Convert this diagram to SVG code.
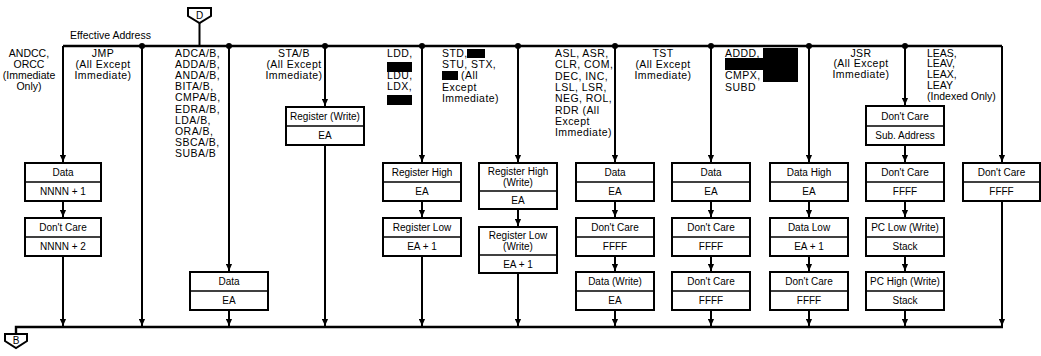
<svg xmlns="http://www.w3.org/2000/svg" width="1041" height="356" viewBox="0 0 1041 356">
<defs>
<style>
.t{font-family:"Liberation Sans",Arial,Helvetica,sans-serif;font-size:10px;fill:#000}
.l{font-size:10.5px}
.m{letter-spacing:0.45px}
.c{text-anchor:middle}
.box{fill:#fff;stroke:#000;stroke-width:2}
.dv{stroke:#000;stroke-width:1.5}
.ln{stroke:#000;stroke-width:2;fill:none}
.bus{stroke:#000;stroke-width:2.4;fill:none}
.a{marker-end:url(#ah)}
.red{fill:#000}
</style>
<marker id="ah" viewBox="0 0 8 8" refX="8" refY="4" markerWidth="8" markerHeight="7" markerUnits="userSpaceOnUse" orient="auto">
<path d="M0,0.5 L8,4 L0,7.5 Z" fill="#000"/>
</marker>
</defs>
<rect width="1041" height="356" fill="#fff"/>

<g id="connectors">
<path class="bus" d="M63,46 H1002"/>
<path class="bus" d="M16,334 V327 H1003"/>
<path class="ln" d="M199.5,23 V46"/>
<g fill="#000">
<circle cx="142" cy="46" r="3"/><circle cx="229" cy="46" r="3"/><circle cx="325" cy="46" r="3"/>
<circle cx="422" cy="46" r="3"/><circle cx="518" cy="46" r="3"/><circle cx="615" cy="46" r="3"/>
<circle cx="711" cy="46" r="3"/><circle cx="809" cy="46" r="3"/><circle cx="905" cy="46" r="3"/>
</g>
<path class="ln a" d="M63,46 V162"/>
<path class="ln a" d="M63,201 V217"/>
<path class="ln a" d="M63,256 V326"/>
<path class="ln a" d="M142,46 V326"/>
<path class="ln a" d="M229,46 V271"/>
<path class="ln a" d="M229,310 V326"/>
<path class="ln a" d="M325,46 V106"/>
<path class="ln a" d="M325,145 V326"/>
<path class="ln a" d="M422,46 V162"/>
<path class="ln a" d="M422,201 V217"/>
<path class="ln a" d="M422,256 V326"/>
<path class="ln a" d="M518,46 V162"/>
<path class="ln a" d="M518,209 V226"/>
<path class="ln a" d="M518,273 V326"/>
<path class="ln a" d="M615,46 V162"/>
<path class="ln a" d="M615,201 V217"/>
<path class="ln a" d="M615,256 V271"/>
<path class="ln a" d="M615,310 V326"/>
<path class="ln a" d="M711,46 V162"/>
<path class="ln a" d="M711,201 V217"/>
<path class="ln a" d="M711,256 V271"/>
<path class="ln a" d="M711,310 V326"/>
<path class="ln a" d="M809,46 V162"/>
<path class="ln a" d="M809,201 V217"/>
<path class="ln a" d="M809,256 V271"/>
<path class="ln a" d="M809,310 V326"/>
<path class="ln a" d="M905,46 V105"/>
<path class="ln a" d="M905,145 V162"/>
<path class="ln a" d="M905,201 V217"/>
<path class="ln a" d="M905,256 V271"/>
<path class="ln a" d="M905,310 V326"/>
<path class="ln a" d="M1002,46 V162"/>
<path class="ln a" d="M1002,201 V326"/>
</g>

<g id="offpage-D">
<polygon class="box" points="188,8 211,8 211,16 199.5,23 188,16"/>
<text class="t c" x="199.5" y="19">D</text>
</g>
<g id="offpage-B">
<polygon class="box" points="5,334 27,334 27,341 16,348 5,341"/>
<text class="t c" x="16" y="344">B</text>
</g>

<g id="labels">
<text class="t l" x="70" y="39">Effective Address</text>
<text class="t l c" x="29" y="56.6"><tspan x="29">ANDCC,</tspan><tspan x="29" dy="11">ORCC</tspan><tspan x="29" dy="11">(Immediate</tspan><tspan x="29" dy="11">Only)</tspan></text>
<text class="t l m c" x="103" y="56.6"><tspan x="103">JMP</tspan><tspan x="103" dy="11">(All Except</tspan><tspan x="103" dy="11">Immediate)</tspan></text>
<text class="t l m" x="175" y="56.6"><tspan x="175">ADCA/B,</tspan><tspan x="175" dy="11.2">ADDA/B,</tspan><tspan x="175" dy="11.2">ANDA/B,</tspan><tspan x="175" dy="11.2">BITA/B,</tspan><tspan x="175" dy="11.2">CMPA/B,</tspan><tspan x="175" dy="11.2">EDRA/B,</tspan><tspan x="175" dy="11.2">LDA/B,</tspan><tspan x="175" dy="11.2">ORA/B,</tspan><tspan x="175" dy="11.2">SBCA/B,</tspan><tspan x="175" dy="11.2">SUBA/B</tspan></text>
<text class="t l m c" x="294" y="56.6"><tspan x="294">STA/B</tspan><tspan x="294" dy="11">(All Except</tspan><tspan x="294" dy="11">Immediate)</tspan></text>
<text class="t l m" x="387" y="57"><tspan x="387">LDD,</tspan><tspan x="387" dy="22">LDU,</tspan><tspan x="387" dy="11.3">LDX,</tspan></text>
<rect class="red" x="387" y="62" width="25" height="10"/>
<rect class="red" x="387" y="95" width="25" height="10"/>
<text class="t l m" x="442" y="57"><tspan x="442">STD,</tspan><tspan x="442" dy="11.2">STU, STX,</tspan><tspan x="461" dy="11.2">(All</tspan><tspan x="442" dy="11.2">Except</tspan><tspan x="442" dy="11.2">Immediate)</tspan></text>
<rect class="red" x="467" y="49" width="18" height="9"/>
<rect class="red" x="442" y="71" width="16" height="9"/>
<text class="t l m" x="555" y="57"><tspan x="555">ASL, ASR,</tspan><tspan x="555" dy="11.3">CLR, COM,</tspan><tspan x="555" dy="11.3">DEC, INC,</tspan><tspan x="555" dy="11.3">LSL, LSR,</tspan><tspan x="555" dy="11.3">NEG, ROL,</tspan><tspan x="555" dy="11.3">RDR (All</tspan><tspan x="555" dy="11.3">Except</tspan><tspan x="555" dy="11.3">Immediate)</tspan></text>
<text class="t l m c" x="663" y="57"><tspan x="663">TST</tspan><tspan x="663" dy="11">(All Except</tspan><tspan x="663" dy="11">Immediate)</tspan></text>
<text class="t l m" x="725" y="57"><tspan x="725">ADDD,</tspan><tspan x="725" dy="22">CMPX,</tspan><tspan x="725" dy="11.5">SUBD</tspan></text>
<path class="red" d="M763,48 H798 V82 H763 V70 H725 V58 H763 Z"/>
<text class="t l m c" x="861" y="56.6"><tspan x="861">JSR</tspan><tspan x="861" dy="10.8">(All Except</tspan><tspan x="861" dy="10.8">Immediate)</tspan></text>
<text class="t l" x="927" y="56.6"><tspan x="927">LEAS,</tspan><tspan x="927" dy="10.8">LEAV,</tspan><tspan x="927" dy="10.8">LEAX,</tspan><tspan x="927" dy="10.8">LEAY</tspan><tspan x="927" dy="10.8">(Indexed Only)</tspan></text>
</g>

<g id="n63a"><rect class="box" x="25" y="163" width="76" height="38"/><line class="dv" x1="25" y1="182" x2="101" y2="182"/><text class="t c" x="63" y="176">Data</text><text class="t c" x="63" y="195">NNNN + 1</text></g>
<g id="n63b"><rect class="box" x="25" y="218" width="76" height="38"/><line class="dv" x1="25" y1="237" x2="101" y2="237"/><text class="t c" x="63" y="231">Don't Care</text><text class="t c" x="63" y="250">NNNN + 2</text></g>
<g id="n229a"><rect class="box" x="190" y="272" width="78" height="38"/><line class="dv" x1="190" y1="291" x2="268" y2="291"/><text class="t c" x="229" y="285">Data</text><text class="t c" x="229" y="304">EA</text></g>
<g id="n325a"><rect class="box" x="286" y="107" width="78" height="38"/><line class="dv" x1="286" y1="126" x2="364" y2="126"/><text class="t c" x="325" y="120">Register (Write)</text><text class="t c" x="325" y="139">EA</text></g>
<g id="n422a"><rect class="box" x="383" y="163" width="78" height="38"/><line class="dv" x1="383" y1="182" x2="461" y2="182"/><text class="t c" x="422" y="176">Register High</text><text class="t c" x="422" y="195">EA</text></g>
<g id="n422b"><rect class="box" x="383" y="218" width="78" height="38"/><line class="dv" x1="383" y1="237" x2="461" y2="237"/><text class="t c" x="422" y="231">Register Low</text><text class="t c" x="422" y="250">EA + 1</text></g>
<g id="n518a"><rect class="box" x="479" y="163" width="78" height="46"/><line class="dv" x1="479" y1="191" x2="557" y2="191"/><text class="t c" x="518" y="175">Register High</text><text class="t c" x="518" y="186">(Write)</text><text class="t c" x="518" y="203.5">EA</text></g>
<g id="n518b"><rect class="box" x="479" y="227" width="78" height="46"/><line class="dv" x1="479" y1="255" x2="557" y2="255"/><text class="t c" x="518" y="239">Register Low</text><text class="t c" x="518" y="250">(Write)</text><text class="t c" x="518" y="267.5">EA + 1</text></g>
<g id="n615a"><rect class="box" x="576" y="163" width="78" height="38"/><line class="dv" x1="576" y1="182" x2="654" y2="182"/><text class="t c" x="615" y="176">Data</text><text class="t c" x="615" y="195">EA</text></g>
<g id="n615b"><rect class="box" x="576" y="218" width="78" height="38"/><line class="dv" x1="576" y1="237" x2="654" y2="237"/><text class="t c" x="615" y="231">Don't Care</text><text class="t c" x="615" y="250">FFFF</text></g>
<g id="n615c"><rect class="box" x="576" y="272" width="78" height="38"/><line class="dv" x1="576" y1="291" x2="654" y2="291"/><text class="t c" x="615" y="285">Data (Write)</text><text class="t c" x="615" y="304">EA</text></g>
<g id="n711a"><rect class="box" x="672" y="163" width="78" height="38"/><line class="dv" x1="672" y1="182" x2="750" y2="182"/><text class="t c" x="711" y="176">Data</text><text class="t c" x="711" y="195">EA</text></g>
<g id="n711b"><rect class="box" x="672" y="218" width="78" height="38"/><line class="dv" x1="672" y1="237" x2="750" y2="237"/><text class="t c" x="711" y="231">Don't Care</text><text class="t c" x="711" y="250">FFFF</text></g>
<g id="n711c"><rect class="box" x="672" y="272" width="78" height="38"/><line class="dv" x1="672" y1="291" x2="750" y2="291"/><text class="t c" x="711" y="285">Don't Care</text><text class="t c" x="711" y="304">FFFF</text></g>
<g id="n809a"><rect class="box" x="770" y="163" width="78" height="38"/><line class="dv" x1="770" y1="182" x2="848" y2="182"/><text class="t c" x="809" y="176">Data High</text><text class="t c" x="809" y="195">EA</text></g>
<g id="n809b"><rect class="box" x="770" y="218" width="78" height="38"/><line class="dv" x1="770" y1="237" x2="848" y2="237"/><text class="t c" x="809" y="231">Data Low</text><text class="t c" x="809" y="250">EA + 1</text></g>
<g id="n809c"><rect class="box" x="770" y="272" width="78" height="38"/><line class="dv" x1="770" y1="291" x2="848" y2="291"/><text class="t c" x="809" y="285">Don't Care</text><text class="t c" x="809" y="304">FFFF</text></g>
<g id="n905a"><rect class="box" x="866" y="106" width="78" height="39"/><line class="dv" x1="866" y1="126" x2="944" y2="126"/><text class="t c" x="905" y="119.5">Don't Care</text><text class="t c" x="905" y="139">Sub. Address</text></g>
<g id="n905b"><rect class="box" x="866" y="163" width="78" height="38"/><line class="dv" x1="866" y1="182" x2="944" y2="182"/><text class="t c" x="905" y="176">Don't Care</text><text class="t c" x="905" y="195">FFFF</text></g>
<g id="n905c"><rect class="box" x="866" y="218" width="78" height="38"/><line class="dv" x1="866" y1="237" x2="944" y2="237"/><text class="t c" x="905" y="231">PC Low (Write)</text><text class="t c" x="905" y="250">Stack</text></g>
<g id="n905d"><rect class="box" x="866" y="272" width="78" height="38"/><line class="dv" x1="866" y1="291" x2="944" y2="291"/><text class="t c" x="905" y="285">PC High (Write)</text><text class="t c" x="905" y="304">Stack</text></g>
<g id="n1002a"><rect class="box" x="963" y="163" width="77" height="38"/><line class="dv" x1="963" y1="182" x2="1040" y2="182"/><text class="t c" x="1001.5" y="176">Don't Care</text><text class="t c" x="1001.5" y="195">FFFF</text></g>
</svg>
